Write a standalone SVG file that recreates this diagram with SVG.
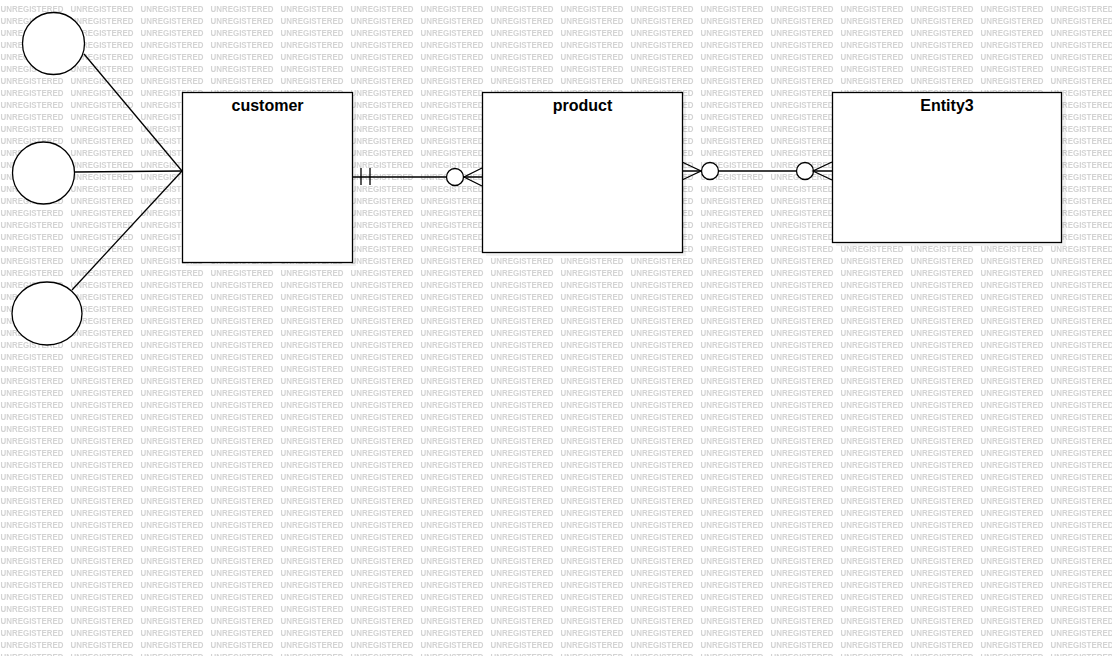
<svg xmlns="http://www.w3.org/2000/svg" width="1112" height="656" viewBox="0 0 1112 656">
  <defs>
    <pattern id="wm" x="0" y="1" width="70" height="12" patternUnits="userSpaceOnUse">
      <text x="0.5" y="11" class="wm" textLength="63" lengthAdjust="spacingAndGlyphs">UNREGISTERED</text>
    </pattern>
  </defs>
  <style>
    .wm { font-family: "Liberation Sans", Arial, sans-serif; font-size: 9px; font-weight: bold; fill: #d3d3d3; }
    .ent { fill: #ffffff; stroke: #000000; stroke-width: 1.3; }
    .shadow { fill: #000000; fill-opacity: 0.05; stroke: none; }
    .attr { fill: #ffffff; stroke: #000000; stroke-width: 1.3; }
    .lbl { font-family: "Liberation Sans", Arial, sans-serif; font-size: 16px; font-weight: bold; fill: #000000; text-anchor: middle; }
    .ln { fill: none; stroke: #000000; stroke-width: 1.3; }
    .circ { fill: #ffffff; stroke: #000000; stroke-width: 1.3; }
  </style>
  <rect x="0" y="0" width="1112" height="656" fill="#ffffff"/>
  <rect x="0" y="0" width="1112" height="656" fill="url(#wm)"/>

  <g id="shadows">
    <rect class="shadow" x="186" y="96" width="170" height="170"/>
    <rect class="shadow" x="486" y="96" width="200" height="160"/>
    <rect class="shadow" x="836" y="96" width="230" height="150"/>
  </g>

  <g id="connectors">
    <!-- attributes to customer -->
    <line class="ln" x1="84" y1="54" x2="182" y2="171"/>
    <line class="ln" x1="75" y1="172" x2="182" y2="171"/>
    <line class="ln" x1="72" y1="290" x2="182" y2="171"/>
    <line class="ln" x1="182" y1="171" x2="186" y2="171"/>
    <!-- customer to product -->
    <line class="ln" x1="352" y1="177" x2="482" y2="177"/>
    <line class="ln" x1="361" y1="168" x2="361" y2="185"/>
    <line class="ln" x1="370" y1="168" x2="370" y2="185"/>
    <circle class="circ" cx="455" cy="177" r="8.5"/>
    <path class="ln" d="M482,168 L464,177 L482,186"/>
    <!-- product to Entity3 -->
    <line class="ln" x1="682" y1="171" x2="832" y2="171"/>
    <path class="ln" d="M682,162 L701,171 L682,180"/>
    <circle class="circ" cx="710" cy="171" r="8.5"/>
    <circle class="circ" cx="805" cy="171" r="8.5"/>
    <path class="ln" d="M832,162 L813,171 L832,180"/>
  </g>

  <g id="attr1"><circle class="attr" cx="53.5" cy="43.5" r="31"/></g>
  <g id="attr2"><circle class="attr" cx="43.5" cy="173" r="31"/></g>
  <g id="attr3"><ellipse class="attr" cx="47" cy="313.5" rx="35" ry="31.5"/></g>

  <g id="customer">
    <rect class="ent" x="182.5" y="92.5" width="170" height="170"/>
    <text class="lbl" x="267.5" y="111">customer</text>
  </g>
  <g id="product">
    <rect class="ent" x="482.5" y="92.5" width="200" height="160"/>
    <text class="lbl" x="582.5" y="111">product</text>
  </g>
  <g id="entity3">
    <rect class="ent" x="832.5" y="92.5" width="229" height="150"/>
    <text class="lbl" x="947" y="111">Entity3</text>
  </g>
</svg>
